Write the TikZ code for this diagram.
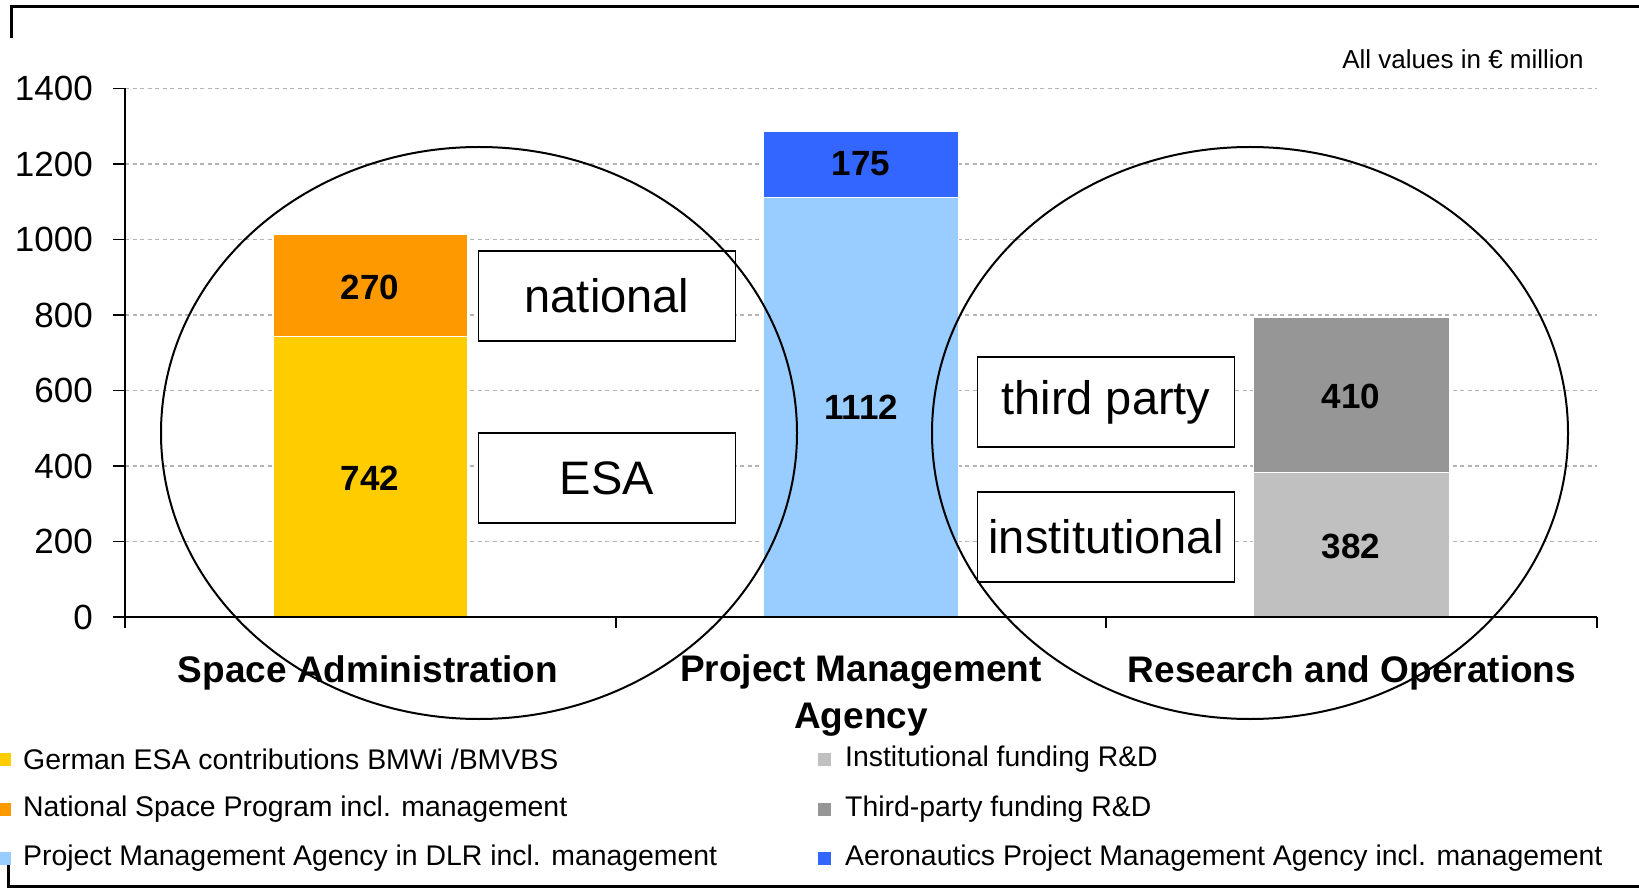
\documentclass[tikz,border=0pt]{standalone}
\usepackage{fontspec}
\setmainfont{Liberation Sans}
\definecolor{esaYellow}{RGB}{255,204,0}
\definecolor{natOrange}{RGB}{255,153,0}
\definecolor{pmaBlue}{RGB}{153,204,255}
\definecolor{aeroBlue}{RGB}{51,102,255}
\definecolor{instGray}{RGB}{192,192,192}
\definecolor{thirdGray}{RGB}{150,150,150}
\definecolor{gridGray}{RGB}{180,180,180}
\tikzset{%
  ticklab/.style={font=\fontsize{35}{40}\selectfont, inner sep=0pt, anchor=east},
  vallab/.style={font=\fontsize{35}{40}\selectfont\bfseries, inner sep=0pt},
  catlab/.style={font=\fontsize{37}{47}\selectfont\bfseries, inner sep=0pt, align=center},
  legtext/.style={font=\fontsize{28.4}{32}\selectfont, inner sep=0pt, anchor=west},
  legsq/.style={minimum width=13, minimum height=13, inner sep=0pt},
  labbox/.style={draw, line width=1.6pt, fill=white, minimum width=257, minimum height=90,
    font=\fontsize{47}{52}\selectfont, inner sep=0pt},
  gridline/.style={gridGray, line width=1.2pt, dash pattern=on 4pt off 3.5pt},
  bar/.style={draw=white, line width=1pt}
  }

\begin{document}
\begin{tikzpicture}[x=1pt, y=-1pt]
  \useasboundingbox (0,0) rectangle (1639,890);
  % frame pieces
  \draw[line width=3pt] (11,38) -- (11,7) -- (1639,7);
  \draw[line width=3pt] (8,852) -- (8,886) -- (1639,886);
  \node[font=\fontsize{26}{30}\selectfont, inner sep=0pt] (unit) at (1463,59) {All values in € million};
  % grid and y ticks
  \foreach \v in {200,400,...,1400}{
    \pgfmathsetmacro\yy{617-0.3775*\v}
    \draw[gridline] (125,\yy) -- (1597,\yy);
  }
  \foreach \v in {0,200,...,1400}{
    \pgfmathsetmacro\yy{617-0.3775*\v}
    \draw[line width=1.2pt] (113,\yy) -- (125,\yy);
    \node[ticklab] (t\v) at (93,\yy) {\v};
  }
  % bars
  \fill[esaYellow, bar] (273,617) rectangle (467,336.9);
  \fill[natOrange, bar] (273,336.9) rectangle (467,235.0);
  \fill[pmaBlue, bar] (763,617) rectangle (958,197.2);
  \fill[aeroBlue, bar] (763,197.2) rectangle (958,131.2);
  \fill[instGray, bar] (1253,617) rectangle (1449,472.8);
  \fill[thirdGray, bar] (1253,472.8) rectangle (1449,318.0);
  % axes
  \draw[line width=1.2pt] (125,88.5) -- (125,628);
  \draw[line width=1.2pt] (125,617) -- (1597,617);
  \foreach \xx in {616,1106,1597}
    \draw[line width=1.2pt] (\xx,617) -- (\xx,628);
  % values
  \node[vallab] (v742) at (370,478) {742};
  \node[vallab] (v270) at (370,287) {270};
  \node[vallab] (v1112) at (861,407) {1112};
  \node[vallab] (v175) at (861,164) {175};
  \node[vallab] (v382) at (1351,546) {382};
  \node[vallab] (v410) at (1351,396) {410};
  % categories
  \node[catlab] (spadm) at (368,673) {Space Administration};
  \node[catlab, anchor=north] (pma) at (861,654) {Project Management\\Agency};
  \node[catlab] (resop) at (1352,673) {Research and Operations};
  % labelled boxes
  \node[labbox] (nat) at (607,296) {national};
  \node[labbox] (esa) at (607,478) {ESA};
  \node[labbox] (third) at (1106,402) {third party};
  \node[labbox] (inst) at (1106,537) {institutional};
  \draw[line width=2pt] (479,433) ellipse [x radius=318, y radius=286];
  \draw[line width=2pt] (1250,433) ellipse [x radius=318, y radius=286];
  % legend
  \node[legsq, fill=esaYellow] (sq1) at (4,759) {};
  \node[legtext] (lg1) at (23,759) {German ESA contributions BMWi /BMVBS};
  \node[legsq, fill=natOrange] (sq2) at (4,809) {};
  \node[legtext] (lg2) at (23,809) {National Space Program incl. management};
  \node[legsq, fill=pmaBlue] (sq3) at (4,858) {};
  \node[legtext] (lg3) at (23,858) {Project Management Agency in DLR incl. management};
  \node[legsq, fill=instGray] (sq4) at (824,759) {};
  \node[legtext] (lg4) at (845,759) {Institutional funding R\&D};
  \node[legsq, fill=thirdGray] (sq5) at (824,809) {};
  \node[legtext] (lg5) at (845,809) {Third-party funding R\&D};
  \node[legsq, fill=aeroBlue] (sq6) at (824,858) {};
  \node[legtext] (lg6) at (845,858) {Aeronautics Project Management Agency incl. management};
\end{tikzpicture}
\end{document}
